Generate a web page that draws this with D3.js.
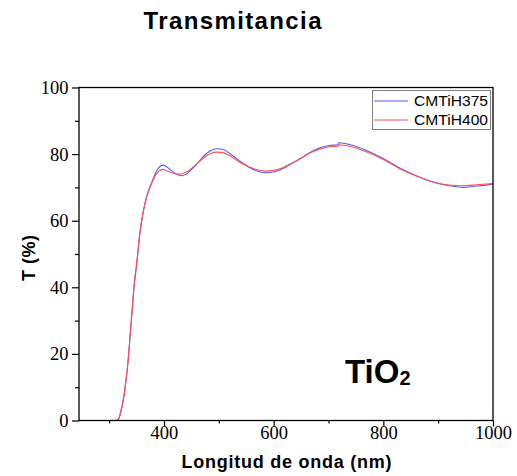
<!DOCTYPE html>
<html>
<head>
<meta charset="utf-8">
<script src="https://cdn.jsdelivr.net/npm/d3@7/dist/d3.min.js"></script>
<style>
  html, body { margin: 0; padding: 0; background: #fff; }
  svg { display: block; }
</style>
</head>
<body>
<svg id="chart" width="517" height="476"></svg>
<script>
// Wavelength grid (nm) and transmittance (%) of the two TiO2 films
const wavelengths = [300, 310, 316, 322, 328, 334, 340, 346, 350, 356, 362, 368, 377, 386, 392, 398, 405, 415, 425, 433, 445, 455, 465, 475, 485, 497, 510, 525, 540, 556, 570, 585, 600, 615, 630, 648, 666, 684, 702, 717, 719, 740, 770, 800, 830, 860, 890, 920, 945, 970, 1000];
const t375 = [0, 0, 0.2, 3, 8.5, 17, 29, 41, 46.5, 56, 62.5, 67, 71.2, 74.8, 76.2, 76.7, 76.2, 74.8, 73.8, 73.5, 74.5, 76.2, 78, 79.8, 81, 81.6, 81.2, 79.6, 77.7, 76.0, 74.9, 74.4, 74.6, 75.5, 76.9, 78.6, 80.5, 81.9, 82.6, 82.8, 83.4, 82.8, 81.0, 78.7, 75.8, 73.5, 71.6, 70.5, 70.0, 70.4, 71.0];
const t400 = [0, 0, 0.3, 3.3, 8.5, 17, 29.5, 41.5, 47, 56.5, 62.5, 67, 71, 74, 75.1, 75.4, 75.0, 74.3, 74.0, 74.1, 75.0, 76.4, 77.8, 79.2, 80.2, 80.6, 80.3, 79.0, 77.4, 76.1, 75.3, 74.9, 75.1, 75.8, 77.0, 78.5, 80.3, 81.5, 82.2, 82.4, 82.8, 82.3, 80.6, 78.4, 75.6, 73.4, 71.7, 70.7, 70.5, 70.8, 71.2];
const seriesNames = ["CMTiH375", "CMTiH400"];
const seriesColors = ["#5a5aff", "#ff5050"];

const xMajorTicks = [400, 600, 800, 1000];
const xMinorTicks = [300, 500, 700, 900];
const yMajorTicks = [0, 20, 40, 60, 80, 100];
const yMinorTicks = [10, 30, 50, 70, 90];

const svg = d3.select("#chart");
const plotLeft = 79, plotRight = 493, plotTop = 87.5, plotBottom = 420.5;

const x = d3.scaleLinear().domain([245, 1000]).range([plotLeft, plotRight]);
const y = d3.scaleLinear().domain([0, 100]).range([plotBottom, plotTop]);

const serif = '"Liberation Serif", "Times New Roman", serif';
const sans = '"Liberation Sans", Arial, Helvetica, sans-serif';

// Title
svg.append("text")
  .attr("x", 232.5).attr("y", 28.5)
  .attr("text-anchor", "middle")
  .style("font-family", sans).style("font-weight", "bold").style("font-size", "24px")
  .attr("textLength", 178).attr("lengthAdjust", "spacing")
  .text("Transmitancia");

// Curves
const line = d3.line().x(d => x(d[0])).y(d => y(d[1])).curve(d3.curveMonotoneX);
const series = [t375, t400];
series.forEach((vals, i) => {
  svg.append("path")
    .datum(wavelengths.map((w, j) => [w, vals[j]]))
    .attr("fill", "none")
    .attr("stroke", seriesColors[i])
    .attr("stroke-width", 1.1)
    .attr("d", line);
});

// Frame
svg.append("rect")
  .attr("x", plotLeft).attr("y", plotTop)
  .attr("width", plotRight - plotLeft).attr("height", plotBottom - plotTop)
  .attr("fill", "none").attr("stroke", "#000").attr("stroke-width", 1.3);

// Bottom axis: major ticks with labels, minor ticks without
const xAxis = svg.append("g").attr("transform", `translate(0,${plotBottom})`)
  .call(d3.axisBottom(x).tickValues(xMajorTicks).tickSize(6).tickFormat(d3.format("d")));
xAxis.select(".domain").remove();
xAxis.selectAll(".tick text")
  .attr("dy", null).attr("y", 18.5)
  .style("font-family", serif).style("font-size", "18.5px").style("fill", "#000");
svg.append("g").attr("transform", `translate(0,${plotBottom})`)
  .call(d3.axisBottom(x).tickValues(xMinorTicks).tickSize(3).tickFormat(""))
  .select(".domain").remove();

// Left axis
const yAxis = svg.append("g").attr("transform", `translate(${plotLeft},0)`)
  .call(d3.axisLeft(y).tickValues(yMajorTicks).tickSize(7).tickPadding(3.5).tickFormat(d3.format("d")));
yAxis.select(".domain").remove();
yAxis.selectAll(".tick text")
  .style("font-family", serif).style("font-size", "18.5px").style("fill", "#000");
svg.append("g").attr("transform", `translate(${plotLeft},0)`)
  .call(d3.axisLeft(y).tickValues(yMinorTicks).tickSize(4).tickFormat(""))
  .select(".domain").remove();

svg.selectAll(".tick line").attr("stroke", "#000").attr("stroke-width", 1.2);

// Axis titles
svg.append("text")
  .attr("x", 286.5).attr("y", 468)
  .attr("text-anchor", "middle")
  .style("font-family", sans).style("font-weight", "bold").style("font-size", "18px")
  .attr("textLength", 210).attr("lengthAdjust", "spacing")
  .text("Longitud de onda (nm)");

svg.append("text")
  .attr("transform", "translate(35,258) rotate(-90)")
  .attr("text-anchor", "middle")
  .style("font-family", sans).style("font-weight", "bold").style("font-size", "18px")
  .attr("textLength", 46).attr("lengthAdjust", "spacing")
  .text("T (%)");

// Legend
const legend = svg.append("g");
legend.append("rect")
  .attr("x", 372.5).attr("y", 90.5).attr("width", 118).attr("height", 39)
  .attr("fill", "#fff").attr("stroke", "#808080").attr("stroke-width", 1);
seriesNames.forEach((name, i) => {
  const ly = 101 + i * 19;
  legend.append("line")
    .attr("x1", 374).attr("x2", 408).attr("y1", ly).attr("y2", ly)
    .attr("stroke", seriesColors[i]).attr("stroke-width", 1.1);
  legend.append("text")
    .attr("x", 414).attr("y", ly + 5)
    .style("font-family", sans).style("font-size", "15px").style("fill", "#000")
    .attr("textLength", 74).attr("lengthAdjust", "spacingAndGlyphs")
    .text(name);
});

// Material label
const mat = svg.append("text")
  .attr("x", 345).attr("y", 382.5)
  .style("font-family", sans).style("font-weight", "bold").style("font-size", "33px")
  .style("fill", "#000");
mat.append("tspan").text("TiO");
mat.append("tspan").style("font-size", "20px").attr("dy", 2).text("2");
</script>
</body>
</html>
